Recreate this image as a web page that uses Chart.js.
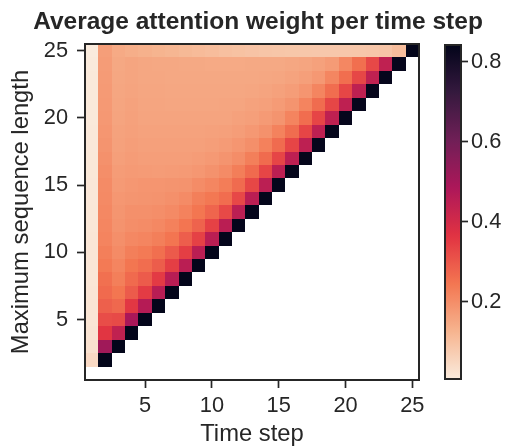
<!DOCTYPE html>
<html>
<head>
<meta charset="utf-8">
<script src="https://cdn.jsdelivr.net/npm/chart.js@4.4.0/dist/chart.umd.min.js"></script>
<style>
html,body{margin:0;padding:0;background:#ffffff;}
#wrap{position:relative;width:510px;height:448px;overflow:hidden;}
#main{position:absolute;left:0;top:0;}
#cbar{position:absolute;left:430px;top:0;}
</style>
</head>
<body>
<div id="wrap">
<canvas id="main" width="510" height="448"></canvas>
<canvas id="cbar" width="80" height="448"></canvas>
</div>
<script>
// ---- data ----
const timeSteps = [1,2,3,4,5,6,7,8,9,10,11,12,13,14,15,16,17,18,19,20,21,22,23,24,25];
const seqLengths = [2,3,4,5,6,7,8,9,10,11,12,13,14,15,16,17,18,19,20,21,22,23,24,25];

const w2  = [0.045, 0.842];
const w3  = [0.028, 0.510, 0.842];
const w4  = [0.022, 0.362, 0.440, 0.842];
const w5  = [0.021, 0.318, 0.324, 0.490, 0.842];
const w6  = [0.020, 0.285, 0.270, 0.357, 0.465, 0.842];
const w7  = [0.019, 0.267, 0.245, 0.293, 0.350, 0.458, 0.842];
const w8  = [0.018, 0.256, 0.228, 0.267, 0.293, 0.352, 0.458, 0.841];
const w9  = [0.018, 0.238, 0.216, 0.245, 0.262, 0.290, 0.345, 0.455, 0.841];
const w10 = [0.017, 0.228, 0.205, 0.228, 0.238, 0.258, 0.295, 0.345, 0.455, 0.841];
const w11 = [0.017, 0.218, 0.198, 0.210, 0.216, 0.228, 0.247, 0.288, 0.340, 0.455, 0.840];
const w12 = [0.016, 0.214, 0.190, 0.200, 0.203, 0.210, 0.225, 0.248, 0.280, 0.340, 0.455, 0.840];
const w13 = [0.016, 0.210, 0.186, 0.195, 0.196, 0.200, 0.208, 0.222, 0.245, 0.275, 0.325, 0.452, 0.840];
const w14 = [0.015, 0.207, 0.182, 0.186, 0.188, 0.190, 0.195, 0.205, 0.228, 0.242, 0.262, 0.328, 0.455, 0.839];
const w15 = [0.015, 0.205, 0.177, 0.183, 0.185, 0.185, 0.187, 0.190, 0.203, 0.215, 0.232, 0.265, 0.330, 0.452, 0.839];
const w16 = [0.014, 0.199, 0.172, 0.177, 0.174, 0.173, 0.174, 0.177, 0.183, 0.192, 0.205, 0.230, 0.267, 0.333, 0.449, 0.838];
const w17 = [0.014, 0.193, 0.167, 0.172, 0.169, 0.168, 0.168, 0.169, 0.172, 0.179, 0.188, 0.201, 0.228, 0.266, 0.333, 0.448, 0.838];
const w18 = [0.013, 0.188, 0.163, 0.168, 0.165, 0.164, 0.164, 0.164, 0.165, 0.168, 0.175, 0.184, 0.197, 0.225, 0.265, 0.333, 0.447, 0.837];
const w19 = [0.013, 0.184, 0.160, 0.165, 0.161, 0.160, 0.160, 0.160, 0.161, 0.162, 0.165, 0.171, 0.180, 0.193, 0.222, 0.264, 0.333, 0.446, 0.837];
const w20 = [0.012, 0.181, 0.157, 0.162, 0.158, 0.157, 0.157, 0.157, 0.157, 0.157, 0.158, 0.162, 0.167, 0.176, 0.188, 0.218, 0.262, 0.332, 0.445, 0.836];
const w21 = [0.012, 0.178, 0.155, 0.160, 0.156, 0.155, 0.154, 0.154, 0.154, 0.154, 0.155, 0.156, 0.160, 0.165, 0.174, 0.188, 0.218, 0.263, 0.331, 0.445, 0.836];
const w22 = [0.011, 0.176, 0.153, 0.158, 0.154, 0.153, 0.152, 0.151, 0.151, 0.151, 0.152, 0.152, 0.153, 0.157, 0.162, 0.171, 0.185, 0.216, 0.262, 0.331, 0.444, 0.835];
const w23 = [0.011, 0.174, 0.151, 0.156, 0.152, 0.151, 0.150, 0.149, 0.149, 0.149, 0.149, 0.150, 0.150, 0.151, 0.154, 0.159, 0.167, 0.181, 0.214, 0.260, 0.330, 0.443, 0.835];
const w24 = [0.010, 0.172, 0.150, 0.155, 0.151, 0.150, 0.149, 0.148, 0.147, 0.146, 0.146, 0.146, 0.147, 0.147, 0.148, 0.152, 0.156, 0.163, 0.174, 0.212, 0.258, 0.328, 0.442, 0.835];
const w25 = [0.007, 0.168, 0.146, 0.138, 0.132, 0.126, 0.121, 0.116, 0.111, 0.106, 0.101, 0.097, 0.093, 0.090, 0.088, 0.086, 0.085, 0.084, 0.084, 0.084, 0.085, 0.087, 0.090, 0.106, 0.842];

const weightRows = [w2,w3,w4,w5,w6,w7,w8,w9,w10,w11,w12,w13,w14,w15,w16,w17,w18,w19,w20,w21,w22,w23,w24,w25];

const xTickValues = [5,10,15,20,25];
const yTickValues = [5,10,15,20,25];
const cbarTickValues = [0.2,0.4,0.6,0.8];

const chartTitle = 'Average attention weight per time step';
const xTitle = 'Time step';
const yTitle = 'Maximum sequence length';

// ---- colormap (seaborn "rocket", reversed) ----
const rocketAnchors = ['#03051a','#35193e','#701f57','#ad1759','#e13342','#f37651','#f6b48f','#faebdd'];
const rocketRGB = rocketAnchors.map(h => [parseInt(h.slice(1,3),16), parseInt(h.slice(3,5),16), parseInt(h.slice(5,7),16)]);

const cells = [];
seqLengths.forEach((L, ri) => {
  weightRows[ri].forEach((v, ti) => cells.push({x: timeSteps[ti], y: L, v: v}));
});
const allVals = cells.map(c => c.v);
const vmin = Math.min(...allVals);
const vmax = Math.max(...allVals);

function colorFor(v) {
  let n = (v - vmin) / (vmax - vmin);
  n = Math.min(1, Math.max(0, n));
  const r = 1 - n;
  const pos = r * (rocketRGB.length - 1);
  const i = Math.min(Math.floor(pos), rocketRGB.length - 2);
  const f = pos - i;
  const a = rocketRGB[i], b = rocketRGB[i + 1];
  const c = a.map((av, k) => Math.round(av + (b[k] - av) * f));
  return 'rgb(' + c[0] + ',' + c[1] + ',' + c[2] + ')';
}

const FONT = '"Liberation Sans", Arial, Helvetica, sans-serif';
const INK = '#262626';

const heatmapPlugin = {
  id: 'heatmapCells',
  beforeDatasetsDraw(chart) {
    const {ctx, scales} = chart;
    const xs = scales.x, ys = scales.y;
    ctx.save();
    chart.data.datasets[0].data.forEach(p => {
      const x0 = Math.round(xs.getPixelForValue(p.x - 0.5));
      const x1 = Math.round(xs.getPixelForValue(p.x + 0.5));
      const y0 = Math.round(ys.getPixelForValue(p.y + 0.5));
      const y1 = Math.round(ys.getPixelForValue(p.y - 0.5));
      ctx.fillStyle = colorFor(p.v);
      ctx.fillRect(x0, y0, x1 - x0, y1 - y0);
    });
    ctx.restore();
  },
  afterDraw(chart) {
    const {ctx, chartArea: a} = chart;
    ctx.save();
    ctx.strokeStyle = INK;
    ctx.lineWidth = 2;
    ctx.strokeRect(a.left, a.top, a.right - a.left, a.bottom - a.top);
    ctx.restore();
  }
};

const tickGrid = {display: true, drawOnChartArea: false, drawTicks: true, tickLength: 8, tickWidth: 1.7, tickColor: INK, color: INK};

new Chart(document.getElementById('main'), {
  type: 'scatter',
  data: {datasets: [{data: cells, pointRadius: 0, pointHoverRadius: 0, showLine: false}]},
  options: {
    responsive: false,
    animation: false,
    events: [],
    layout: {padding: {left: 6, right: 0, top: 0, bottom: 0}},
    plugins: {
      legend: {display: false},
      tooltip: {enabled: false},
      title: {
        display: true, text: chartTitle, color: INK,
        font: {family: FONT, size: 24.5, weight: 'bold', lineHeight: 1.2},
        padding: {top: 7.3, bottom: 7.3}
      }
    },
    scales: {
      x: {
        type: 'linear', min: 0.5, max: 25.5,
        afterBuildTicks: s => { s.ticks = xTickValues.map(v => ({value: v})); },
        ticks: {color: INK, font: {family: FONT, size: 21.8}, padding: 5, maxRotation: 0, autoSkip: false},
        grid: tickGrid,
        border: {display: false},
        title: {display: true, text: xTitle, color: INK, font: {family: FONT, size: 23.8, lineHeight: 1.2}, padding: {top: 0, bottom: -1}},
        afterFit: s => { s.height = 68; }
      },
      y: {
        type: 'linear', min: 0.5, max: 25.5,
        afterBuildTicks: s => { s.ticks = yTickValues.map(v => ({value: v})); },
        ticks: {color: INK, font: {family: FONT, size: 21.8}, padding: 9, autoSkip: false},
        grid: tickGrid,
        border: {display: false},
        title: {display: true, text: yTitle, color: INK, font: {family: FONT, size: 23.8, lineHeight: 1.2}, padding: {top: 1.6, bottom: 0}},
        afterFit: s => { s.width = 79; }
      },
      yRightSpace: {
        type: 'linear', position: 'right', min: 0, max: 1,
        ticks: {display: false},
        grid: {display: false, drawTicks: false},
        border: {display: false},
        afterFit: s => { s.width = 91; }
      }
    }
  },
  plugins: [heatmapPlugin]
});

// ---- colorbar ----
const colorbarPlugin = {
  id: 'colorbarFill',
  beforeDatasetsDraw(chart) {
    const {ctx, chartArea: a, scales} = chart;
    const ys = scales.y;
    const yb = ys.getPixelForValue(vmin), yt = ys.getPixelForValue(vmax);
    const g = ctx.createLinearGradient(0, yb, 0, yt);
    const N = 64;
    for (let i = 0; i <= N; i++) {
      g.addColorStop(i / N, colorFor(vmin + (vmax - vmin) * i / N));
    }
    ctx.save();
    ctx.fillStyle = g;
    ctx.fillRect(a.left, a.top, a.right - a.left, a.bottom - a.top);
    ctx.strokeStyle = INK;
    ctx.lineWidth = 2;
    ctx.strokeRect(a.left, a.top, a.right - a.left, a.bottom - a.top);
    ctx.restore();
  }
};

new Chart(document.getElementById('cbar'), {
  type: 'scatter',
  data: {datasets: [{data: [], pointRadius: 0}]},
  options: {
    responsive: false,
    animation: false,
    events: [],
    layout: {padding: {left: 15, right: 0, top: 45, bottom: 69}},
    plugins: {legend: {display: false}, tooltip: {enabled: false}, title: {display: false}},
    scales: {
      x: {display: false, min: 0, max: 1},
      y: {
        position: 'right', min: vmin, max: vmax,
        afterBuildTicks: s => { s.ticks = cbarTickValues.map(v => ({value: v})); },
        ticks: {color: INK, font: {family: FONT, size: 21.8}, padding: 3, autoSkip: false, callback: v => Number(v).toFixed(1)},
        grid: {display: true, drawOnChartArea: false, drawTicks: true, tickLength: 7, tickWidth: 1.7, tickColor: INK, color: INK},
        border: {display: false},
        afterFit: s => { s.width = 49; }
      }
    }
  },
  plugins: [colorbarPlugin]
});
</script>
</body>
</html>
